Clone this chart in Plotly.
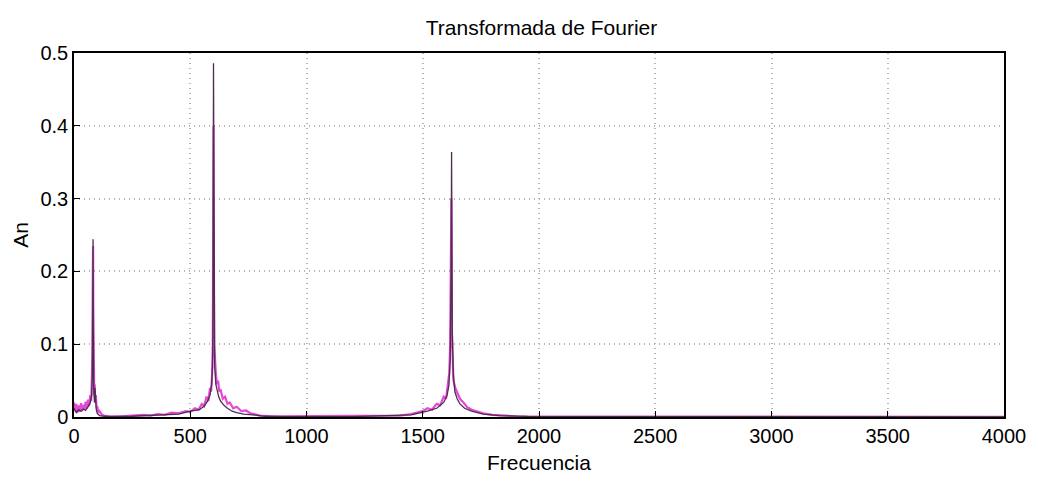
import plotly.graph_objects as go

# Magenta trace (dense noisy spectrum band)
freq_m = [0, 5, 10, 15, 20, 25, 30, 35, 40, 45, 50, 55, 60, 65, 70, 74, 77, 79, 81, 82, 83, 85, 87, 89, 91, 94, 97, 100, 105, 110, 120, 130, 150,
          200, 250, 300, 330, 360, 390, 420, 450, 480, 500, 520, 535, 550, 560, 570, 578, 585, 590, 594, 597, 599, 600, 601, 603, 606, 610,
          615, 620, 625, 630, 640, 650, 660, 670, 685, 700, 720, 740, 760, 780, 800, 850, 1000, 1200, 1400, 1450, 1480, 1500, 1520, 1540,
          1560, 1575, 1590, 1600, 1608, 1614, 1618, 1621, 1623, 1625, 1628, 1632, 1640, 1650, 1660, 1675, 1690, 1710, 1730, 1760, 1800,
          1850, 1900, 2000, 3000, 4000]
amp_m = [0.020, 0.008, 0.018, 0.006, 0.016, 0.007, 0.019, 0.008, 0.017, 0.010, 0.021, 0.012, 0.024, 0.015, 0.030, 0.022, 0.055, 0.090, 0.200, 0.235, 0.150, 0.060, 0.030, 0.045, 0.020, 0.030, 0.012, 0.015, 0.006, 0.008, 0.003, 0.002, 0.001,
         0.001, 0.002, 0.003, 0.002, 0.004, 0.003, 0.006, 0.005, 0.008, 0.007, 0.012, 0.010, 0.018, 0.015, 0.028, 0.022, 0.040, 0.035, 0.060, 0.100, 0.300, 0.400, 0.280, 0.100, 0.080, 0.060,
         0.045, 0.050, 0.035, 0.038, 0.025, 0.028, 0.018, 0.020, 0.012, 0.014, 0.008, 0.009, 0.005, 0.004, 0.002, 0.001, 0.001, 0.001, 0.002, 0.004, 0.006, 0.008, 0.012, 0.010,
         0.018, 0.016, 0.028, 0.025, 0.045, 0.060, 0.100, 0.280, 0.300, 0.120, 0.070, 0.050, 0.040, 0.032, 0.025, 0.020, 0.014, 0.010, 0.008, 0.005, 0.003,
         0.002, 0.001, 0.0005, 0.0003, 0.0003]

# Dark trace (main spectrum line)
freq_d = [0, 10, 20, 30, 40, 50, 60, 70, 76, 79, 81, 82, 83, 85, 88, 90, 93, 96, 100, 110, 130, 160, 250, 350, 450, 500, 540, 560, 575, 585, 592, 596, 598,
          600, 602, 605, 610, 616, 622, 630, 645, 660, 680, 700, 730, 770, 820, 900, 1200, 1450, 1520, 1560, 1590, 1605, 1613, 1618, 1622, 1624,
          1627, 1631, 1638, 1648, 1660, 1680, 1710, 1760, 1830, 1950, 4000]
amp_d = [0.012, 0.006, 0.010, 0.008, 0.011, 0.009, 0.014, 0.020, 0.030, 0.060, 0.180, 0.244, 0.120, 0.040, 0.020, 0.040, 0.015, 0.010, 0.005, 0.002, 0.001, 0.0005, 0.001, 0.002, 0.004, 0.008, 0.010, 0.015, 0.022, 0.030, 0.045, 0.070, 0.150,
         0.486, 0.150, 0.070, 0.045, 0.035, 0.028, 0.022, 0.016, 0.012, 0.008, 0.006, 0.004, 0.003, 0.001, 0.0005, 0.0005, 0.003, 0.008, 0.012, 0.020, 0.030, 0.045, 0.080, 0.200, 0.364,
         0.120, 0.060, 0.035, 0.025, 0.018, 0.012, 0.008, 0.004, 0.002, 0.0008, 0.0003]

x_ticks = [0, 500, 1000, 1500, 2000, 2500, 3000, 3500, 4000]
y_ticks = [0, 0.1, 0.2, 0.3, 0.4, 0.5]
y_tick_labels = ["0", "0.1", "0.2", "0.3", "0.4", "0.5"]

FONT = "Liberation Sans, Arial, Helvetica, sans-serif"

fig = go.Figure()
fig.add_trace(go.Scatter(x=freq_m, y=amp_m, mode="lines",
                         line=dict(color="#e24ad6", width=2.2), hoverinfo="skip"))
fig.add_trace(go.Scatter(x=freq_d, y=amp_d, mode="lines",
                         line=dict(color="#4f2d4f", width=1.3), hoverinfo="skip"))

axis_common = dict(showline=True, linecolor="black", linewidth=1.5, mirror=True,
                   ticks="inside", ticklen=6, tickcolor="black",
                   showgrid=True, gridcolor="#b4b4b4", griddash="1px,4px", gridwidth=1.5,
                   zeroline=False, tickfont=dict(family=FONT, size=20, color="black"))

fig.update_layout(
    width=1038, height=483,
    margin=dict(l=74, r=30, t=53, b=66),
    paper_bgcolor="white", plot_bgcolor="white",
    showlegend=False,
    title=dict(text="Transformada de Fourier", x=0.5217, xanchor="center", y=0.942, yanchor="middle",
               font=dict(family=FONT, size=21, color="black")),
)
fig.update_xaxes(range=[0, 4000], tickvals=x_ticks, ticktext=[str(t) for t in x_ticks],
                 title=dict(text="Frecuencia", font=dict(family=FONT, size=21, color="black"), standoff=10),
                 **axis_common)
fig.update_yaxes(range=[0, 0.5], tickvals=y_ticks, ticktext=y_tick_labels,
                 title=dict(text="An", font=dict(family=FONT, size=21, color="black"), standoff=6),
                 **axis_common)

fig.write_html("out.html")
